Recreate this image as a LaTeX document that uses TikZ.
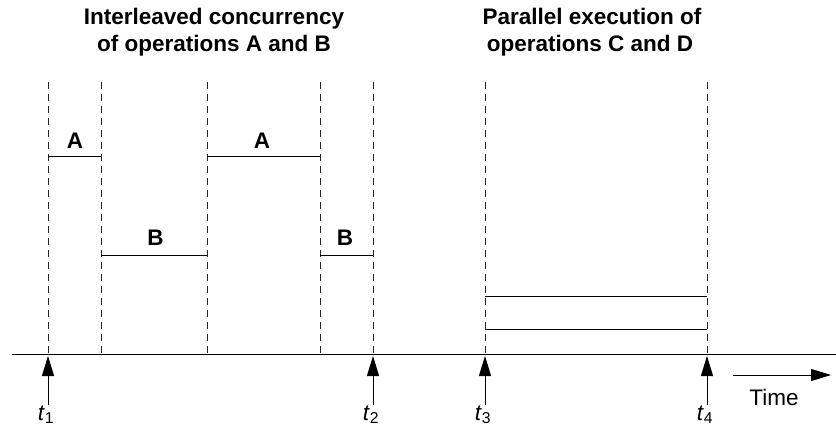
\documentclass[tikz,border=0pt]{standalone}
\usepackage{fontspec}
\setmainfont{Liberation Sans}
\usetikzlibrary{arrows.meta}
\begin{document}
\begin{tikzpicture}[x=1pt,y=-1pt,
  guide/.style={draw=black!85, line width=0.8pt, dash pattern=on 7pt off 5pt},
  seg/.style={draw=black, line width=0.9pt},
  lbl/.style={font=\fontsize{22.5}{24}\selectfont\bfseries, anchor=base, inner sep=0pt},
  ttl/.style={font=\fontsize{22.5}{24}\selectfont\bfseries, anchor=base, inner sep=0pt},
  tlab/.style={font=\fontsize{22.5}{24}\selectfont, anchor=base, inner sep=0pt},
  uparrow/.style={draw=black, line width=0.9pt, -{Triangle[length=20pt,width=12pt]}}]
\useasboundingbox (0,0) rectangle (836,428);
% titles
\node[ttl] (title1a) at (214,25) {Interleaved concurrency};
\node[ttl] (title1b) at (214,52) {of operations A and B};
\node[ttl] (title2a) at (592,25) {Parallel execution of};
\node[ttl] (title2b) at (590,52) {operations C and D};
% axis
\coordinate (axL) at (12,354);
\coordinate (axR) at (836,354);
\draw[line width=0.9pt] (axL) -- (axR);
% guides
\foreach \n/\x in {g1/48,g2/101,g3/207,g4/320,g5/373,g6/485,g7/707}{
  \coordinate (\n top) at (\x,82);
  \coordinate (\n bot) at (\x,354);
  \draw[guide] (\n top) -- (\n bot);
}
% A and B segments
\coordinate (a1s) at (48,156); \coordinate (a1e) at (101,156);
\coordinate (b1s) at (101,255); \coordinate (b1e) at (207,255);
\coordinate (a2s) at (207,156); \coordinate (a2e) at (320,156);
\coordinate (b2s) at (320,255); \coordinate (b2e) at (373,255);
\draw[seg] (a1s) -- (a1e);
\draw[seg] (b1s) -- (b1e);
\draw[seg] (a2s) -- (a2e);
\draw[seg] (b2s) -- (b2e);
\node[lbl] (la1) at (75,148) {A};
\node[lbl] (lb1) at (155.5,245) {B};
\node[lbl] (la2) at (262,148) {A};
\node[lbl] (lb2) at (345,245) {B};
% C and D
\coordinate (cs) at (485,296); \coordinate (ce) at (707,296);
\coordinate (ds) at (485,329); \coordinate (de) at (707,329);
\draw[seg] (cs) -- (ce);
\draw[seg] (ds) -- (de);
% time markers
\foreach \n/\x/\i in {m1/48/1,m2/373/2,m3/485/3,m4/707/4}{
  \coordinate (\n base) at (\x,405);
  \coordinate (\n tip) at (\x,356);
  \draw[uparrow] (\n base) -- (\n tip);
  \node[tlab] (\n lab) at (\x-2,420) {\textit{t}\textsubscript{\i}};
}
% time arrow
\coordinate (timeS) at (733,375);
\coordinate (timeE) at (831,375);
\draw[line width=0.9pt, -{Triangle[length=20pt,width=12pt]}] (timeS) -- (timeE);
\node[tlab] (timelab) at (774,405) {Time};
\end{tikzpicture}
\end{document}
